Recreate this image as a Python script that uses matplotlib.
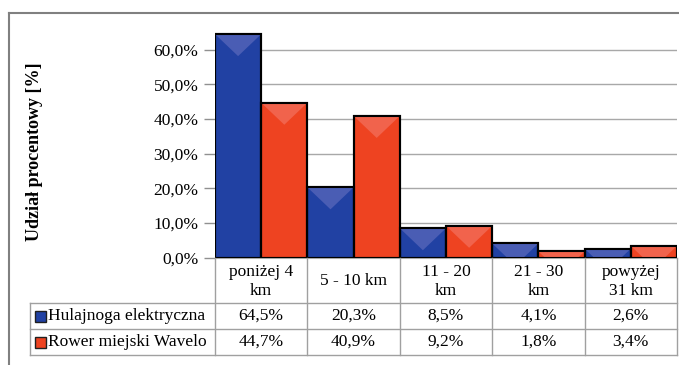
import numpy as np
import matplotlib
matplotlib.use('Agg')
import matplotlib.pyplot as plt
from matplotlib.patches import Polygon, Rectangle
from matplotlib.lines import Line2D
from matplotlib.ticker import FuncFormatter

plt.rcParams['font.family'] = ['Liberation Serif', 'DejaVu Serif']

# dane
kategorie = ['poniżej 4\nkm', '5 - 10 km', '11 - 20\nkm', '21 - 30\nkm', 'powyżej\n31 km']
hulajnoga = [64.5, 20.3, 8.5, 4.1, 2.6]
rower = [44.7, 40.9, 9.2, 1.8, 3.4]
serie = ['Hulajnoga elektryczna', 'Rower miejski Wavelo']
kolory = ['#2141a3', '#ee4321']
kolory_jasne = ['#4a5db4', '#f1634c']

W, H = 679, 365
fig = plt.figure(figsize=(W / 100, H / 100), dpi=100)

# obszar wykresu w pikselach
x0, x1 = 215, 677
y_zero, y_top = 257.7, 22
ax = fig.add_axes([x0 / W, (H - y_zero) / H, (x1 - x0) / W, (y_zero - y_top) / H])

x = np.arange(len(kategorie))
szer = 0.5
paski = []
for i, (dane, kol) in enumerate(zip([hulajnoga, rower], kolory)):
    b = ax.bar(x - szer / 2 + i * szer, dane, width=szer, color=kol,
               edgecolor='black', linewidth=1.5, zorder=3)
    paski.append(b)

ax.set_xlim(-0.5, len(kategorie) - 0.5)
ax.set_ylim(0, 68)
ax.set_yticks(np.arange(0, 61, 10))
ax.yaxis.set_major_formatter(FuncFormatter(lambda v, p: f'{v:.1f}%'.replace('.', ',')))
ax.tick_params(axis='y', labelsize=12.5, length=8, color='#909090', width=1, pad=4)
ax.set_xticks([])
ax.grid(axis='y', color='#a8a8a8', linewidth=1, zorder=0)
for s in ['top', 'right', 'left']:
    ax.spines[s].set_visible(False)
ax.spines['bottom'].set_color('#a8a8a8')

# jasny trójkąt na górze słupka (efekt skosu)
fig.canvas.draw()
px_y = ax.bbox.height / (ax.get_ylim()[1] - ax.get_ylim()[0])
glebokosc = 22 / px_y
for b, jasny in zip(paski, kolory_jasne):
    for p in b.patches:
        bx, bw, bh = p.get_x(), p.get_width(), p.get_height()
        tri = Polygon([[bx, bh], [bx + bw, bh], [bx + bw / 2, bh - glebokosc]],
                      closed=True, facecolor=jasny, edgecolor='none', zorder=3.5)
        tri.set_clip_path(p)
        ax.add_patch(tri)
        ramka = Rectangle((bx, 0), bw, bh, facecolor='none', edgecolor='black',
                          linewidth=1.5, zorder=4)
        ax.add_patch(ramka)


def fx(px):
    return px / W


def fy(py):
    return (H - py) / H


fig.text(fx(35), fy(152), 'Udział procentowy [%]', rotation=90, ha='center', va='center',
         fontsize=13, fontweight='bold')

# tabela danych pod wykresem
szary = '#a0a0a0'
wiersze = [y_zero, 303, 329, 355]
lewa = 30


def kol_x(v):
    return (x0 + (v + 0.5) / len(kategorie) * (x1 - x0))


for yy in wiersze[1:]:
    fig.add_artist(Line2D([fx(lewa), fx(x1)], [fy(yy), fy(yy)], color=szary, lw=1))
fig.add_artist(Line2D([fx(lewa), fx(lewa)], [fy(wiersze[1]), fy(wiersze[3])], color=szary, lw=1))
for v in np.arange(-0.5, len(kategorie)):
    fig.add_artist(Line2D([fx(kol_x(v)), fx(kol_x(v))], [fy(wiersze[0]), fy(wiersze[3])],
                          color=szary, lw=1))

for i, k in enumerate(kategorie):
    cx = fx(kol_x(i))
    fig.text(cx, fy((wiersze[0] + wiersze[1]) / 2 + 1), k, ha='center', va='center',
             fontsize=12.5, linespacing=1.3)
    for r, dane in enumerate([hulajnoga, rower]):
        fig.text(cx, fy((wiersze[r + 1] + wiersze[r + 2]) / 2),
                 f'{dane[i]:.1f}%'.replace('.', ','), ha='center', va='center', fontsize=12.5)

for r, (nazwa, kol) in enumerate(zip(serie, kolory)):
    yc = (wiersze[r + 1] + wiersze[r + 2]) / 2
    fig.add_artist(Rectangle((fx(35), fy(yc + 5.5)), 11 / W, 11 / H, facecolor=kol,
                             edgecolor='#202020', linewidth=1, transform=fig.transFigure))
    fig.text(fx(48), fy(yc), nazwa, ha='left', va='center', fontsize=12.5)

# ramka wykresu
fig.add_artist(Line2D([fx(9), fx(W + 5)], [fy(13), fy(13)], color='#808080', lw=1.5))
fig.add_artist(Line2D([fx(9), fx(9)], [fy(13), fy(H + 5)], color='#808080', lw=1.5))

fig.savefig('out.png', dpi=100)
